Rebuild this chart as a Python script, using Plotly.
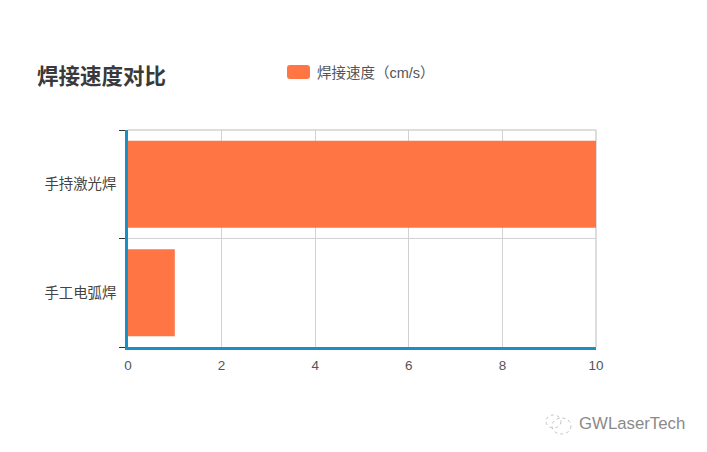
import plotly.graph_objects as go

categories = ["手工电弧焊", "手持激光焊"]
speeds = [1, 10]
series_name = "焊接速度（cm/s）"
title_text = "焊接速度对比"
x_ticks = [0, 2, 4, 6, 8, 10]
watermark = "GWLaserTech"

OFF = 8  # default page margin
W, H = 707 - 2 * OFF, 452 - 2 * OFF
L, R, T, B = 128 - OFF, 596 - OFF, 130 - OFF, 347 - OFF
FONT = "'Liberation Sans', 'Noto Sans CJK SC', sans-serif"
COLOR = "#FF7644"
GRID = "#d2d2d2"


def fx(x):
    """page pixel -> plot-area x fraction"""
    return (x - OFF - L) / (R - L)


def fy(y):
    """page pixel -> plot-area y fraction"""
    return (B - (y - OFF)) / (B - T)


fig = go.Figure(go.Bar(
    y=categories, x=speeds, orientation="h", name=series_name,
    marker=dict(color=COLOR, line=dict(width=0)), width=0.8,
    showlegend=True,
))

swatch_x0, swatch_x1, swatch_y0, swatch_y1 = fx(287), fx(310), fy(79), fy(65)
rx = 3 / (R - L)
ry = 3 / (B - T)
swatch_path = (
    f"M{swatch_x0 + rx},{swatch_y0} L{swatch_x1 - rx},{swatch_y0} "
    f"Q{swatch_x1},{swatch_y0} {swatch_x1},{swatch_y0 + ry} L{swatch_x1},{swatch_y1 - ry} "
    f"Q{swatch_x1},{swatch_y1} {swatch_x1 - rx},{swatch_y1} L{swatch_x0 + rx},{swatch_y1} "
    f"Q{swatch_x0},{swatch_y1} {swatch_x0},{swatch_y1 - ry} L{swatch_x0},{swatch_y0 + ry} "
    f"Q{swatch_x0},{swatch_y0} {swatch_x0 + rx},{swatch_y0} Z"
)

fig.update_layout(
    width=W, height=H, autosize=False,
    margin=dict(l=L, r=W - R, t=T, b=H - B),
    paper_bgcolor="white", plot_bgcolor="white",
    font=dict(family=FONT, size=13, color="#555555"),
    title=dict(text="<b>%s</b>" % title_text, x=(37 - OFF) / W, xanchor="left",
               y=1 - (76 - OFF) / H, yanchor="middle",
               font=dict(size=21.5, color="#3a3a3a", family=FONT)),
    legend=dict(orientation="h", x=fx(277), y=fy(72), xanchor="left", yanchor="middle",
                font=dict(size=14.5, color="#555555"),
                bgcolor="rgba(0,0,0,0)"),
    xaxis=dict(range=[0, 10], tickvals=x_ticks, showgrid=True, gridcolor=GRID, gridwidth=1,
               ticks="", zeroline=False, showline=True, linecolor="#1a8fc4", linewidth=2.5,
               tickfont=dict(size=13.5, color="#555555"), ticklabelstandoff=4),
    yaxis=dict(type="category", categoryorder="array", categoryarray=categories,
               tickson="boundaries", showgrid=True, gridcolor=GRID, gridwidth=1,
               ticks="outside", ticklen=6, tickcolor="#333333", tickwidth=1,
               zeroline=False, showline=True, linecolor="#1a8fc4", linewidth=2.5,
               tickfont=dict(size=14.4, color="#444444"), ticklabelstandoff=6),
    shapes=[
        dict(type="line", xref="paper", yref="paper", x0=1, x1=1, y0=0, y1=1,
             line=dict(color=GRID, width=1.5), layer="below"),
        dict(type="line", xref="paper", yref="paper", x0=0, x1=1, y0=1, y1=1,
             line=dict(color=GRID, width=1.5), layer="below"),
        dict(type="path", xref="paper", yref="paper", path=swatch_path,
             fillcolor=COLOR, line=dict(width=0)),
        dict(type="circle", xref="paper", yref="paper", x0=fx(552), x1=fx(571), y0=fy(434), y1=fy(418),
             line=dict(color="#c4c4c4", width=1, dash="dot")),
        dict(type="circle", xref="paper", yref="paper", x0=fx(546), x1=fx(561), y0=fy(428), y1=fy(415),
             line=dict(color="#c4c4c4", width=1, dash="dot")),
    ],
    annotations=[
        dict(text=watermark, xref="paper", yref="paper", x=fx(577), y=fy(423),
             xanchor="left", yanchor="middle", showarrow=False,
             font=dict(size=16.8, color="#8a8a8a", family="'Liberation Sans', sans-serif")),
    ],
)

fig.write_html("out.html")
